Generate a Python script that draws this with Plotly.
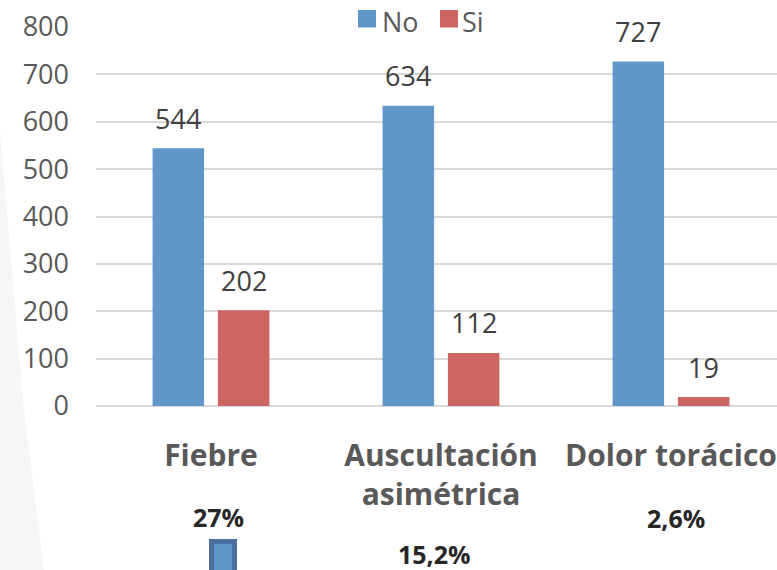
import plotly.graph_objects as go

# Chart data
categories = ["Fiebre", "Auscultación<br>asimétrica", "Dolor torácico"]
no_values = [544, 634, 727]
si_values = [202, 112, 19]
percent_labels = ["27%", "15,2%", "2,6%"]
series_names = ["No", "Si"]
y_ticks = [0, 100, 200, 300, 400, 500, 600, 700, 800]

W, H = 777, 570
ML, MR, MT, MB = 96, 0, 27, 164
BLUE = "#6096C8"
RED = "#CD6560"
FONT = "Open Sans, Noto Sans, sans-serif"

# bar geometry in category units
BAR_W = 0.224
OFFSETS = [-0.254, 0.030]
CAT_PX = 230.0  # pixel width of one category slot


def px_x(p):
    return (p - ML) / (W - ML - MR)


def px_y(p):
    return 1 - (p - MT) / (H - MT - MB)


fig = go.Figure()
for name, vals, col, off in [
    (series_names[0], no_values, BLUE, OFFSETS[0]),
    (series_names[1], si_values, RED, OFFSETS[1]),
]:
    fig.add_trace(go.Bar(
        x=categories, y=vals, name=name, marker=dict(color=col, line=dict(width=0)),
        width=BAR_W, offset=off, showlegend=False,
    ))

annotations = []
# value labels above each bar
for vals, off in [(no_values, OFFSETS[0]), (si_values, OFFSETS[1])]:
    for c, v in zip(categories, vals):
        annotations.append(dict(
            x=c, y=v, xref="x", yref="y", text=str(v), showarrow=False,
            xshift=(off + BAR_W / 2) * CAT_PX, yshift=30, yanchor="middle",
            font=dict(family=FONT, size=27, color="#404040"),
        ))

# percentage notes under the categories
for txt, (xp, yp) in zip(percent_labels, [(218.5, 517), (434, 554), (676, 518)]):
    annotations.append(dict(
        x=px_x(xp), y=px_y(yp), xref="paper", yref="paper", text=f"<b>{txt}</b>",
        showarrow=False, xanchor="center", yanchor="middle",
        font=dict(family=FONT, size=25, color="#262626"),
    ))

# legend entries
shapes = []
for name, col, sq_x, tx_x in [(series_names[0], BLUE, 358, 380), (series_names[1], RED, 440, 460)]:
    shapes.append(dict(
        type="rect", xref="paper", yref="paper",
        x0=px_x(sq_x), x1=px_x(sq_x + 18), y0=px_y(27.5), y1=px_y(10),
        fillcolor=col, line=dict(width=0),
    ))
    annotations.append(dict(
        x=px_x(tx_x), y=px_y(21), xref="paper", yref="paper", text=name,
        showarrow=False, xanchor="left", yanchor="middle",
        font=dict(family=FONT, size=27, color="#595959"),
    ))

# pale slide backdrop on the left edge
shapes.append(dict(
    type="path", xref="paper", yref="paper", layer="below",
    path=(f"M {px_x(0)},{px_y(130)} L {px_x(23)},{px_y(400)} "
          f"L {px_x(44)},{px_y(570)} L {px_x(0)},{px_y(570)} Z"),
    fillcolor="#F6F6F6", line=dict(width=0),
))

# small icon below the first category
shapes.append(dict(
    type="rect", xref="paper", yref="paper",
    x0=px_x(211.5), x1=px_x(234.5), y0=px_y(580), y1=px_y(541.5),
    fillcolor=BLUE, line=dict(color="#4A709D", width=5),
))

fig.update_layout(
    width=W, height=H,
    margin=dict(l=ML, r=MR, t=MT, b=MB, pad=0),
    paper_bgcolor="white", plot_bgcolor="white",
    barmode="group",
    showlegend=False,
    annotations=annotations,
    shapes=shapes,
    xaxis=dict(
        type="category", range=[-0.5, (W - ML - MR) / CAT_PX - 0.5],
        showgrid=False, showline=False, zeroline=False, ticks="",
        tickfont=dict(family=FONT, size=30, color="#595959", weight="bold"),
        ticklabelstandoff=29,
    ),
    yaxis=dict(
        range=[0, 800], tickvals=y_ticks, showgrid=True, gridcolor="#D9D9D9", gridwidth=2,
        zeroline=True, zerolinecolor="#D9D9D9", zerolinewidth=2, showline=False, ticks="",
        tickfont=dict(family=FONT, size=27, color="#595959"),
        ticklabelstandoff=26,
    ),
)

fig.write_html("out.html")
